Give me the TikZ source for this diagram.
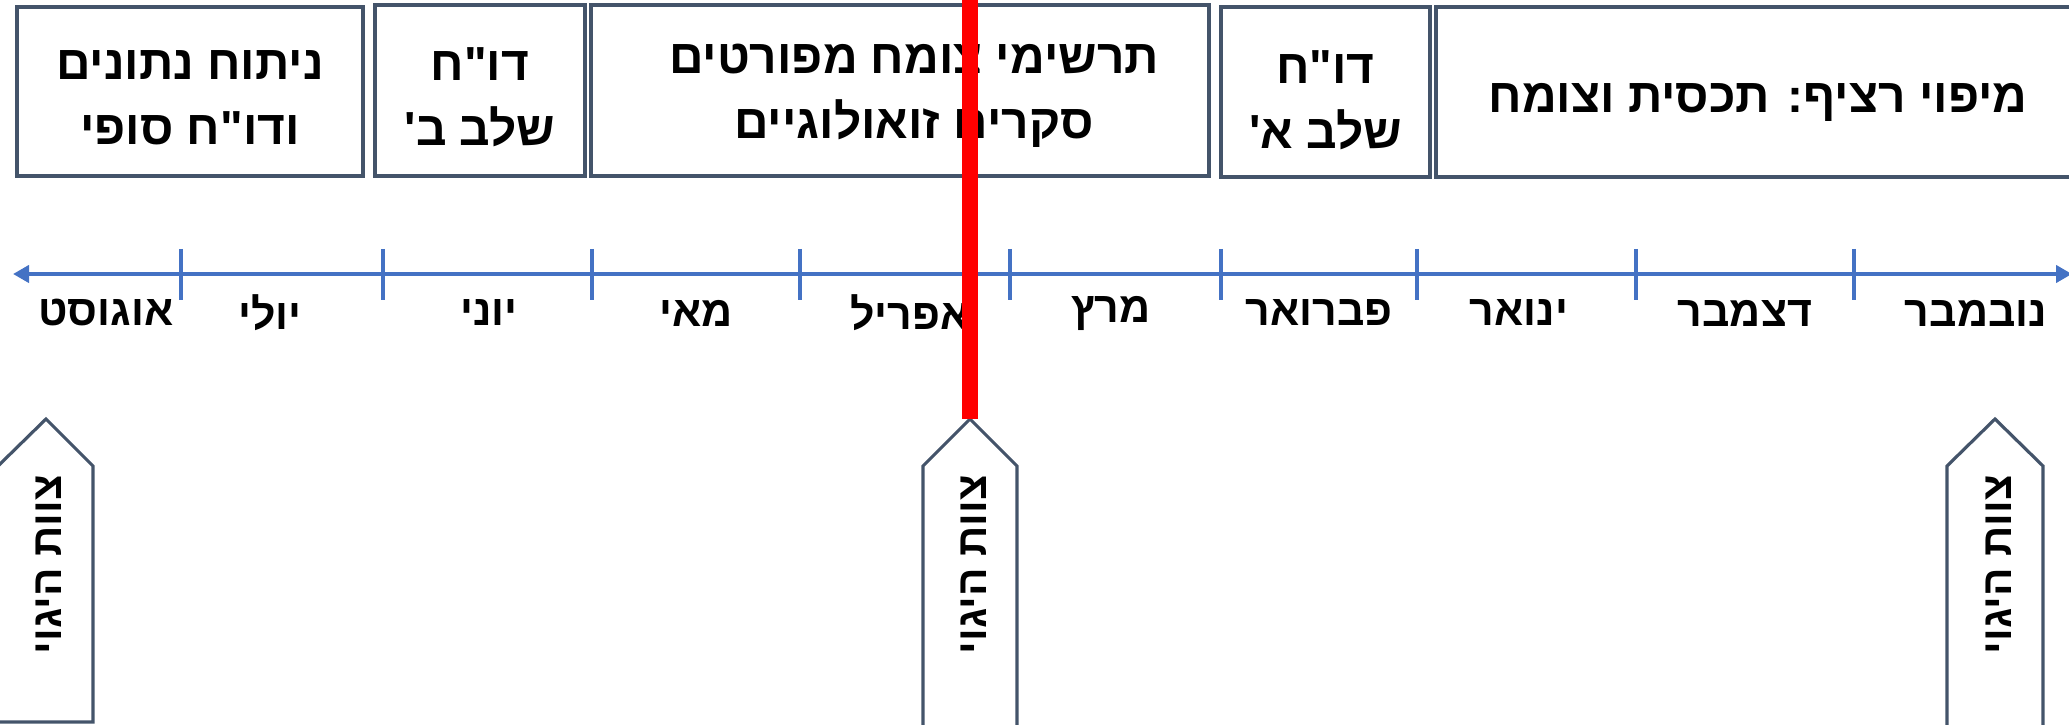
\documentclass[tikz,border=0pt]{standalone}
\usepackage{fontspec}
\newfontfamily\hebfont[Script=Hebrew,Ligatures=TeXOff]{Liberation Sans}
\TeXXeTstate=1
\usetikzlibrary{positioning,arrows.meta}
\definecolor{boxline}{HTML}{44546A}
\definecolor{axisblue}{HTML}{4472C4}
\tikzset{
  phasebox/.style={draw=boxline, line width=0.9pt, inner sep=0pt},
  phasetext/.style={align=center, inner sep=0pt,
    font=\hebfont\bfseries\fontsize{13.6}{18.5}\selectfont},
  monthlabel/.style={font=\hebfont\bfseries\fontsize{12.2}{14}\selectfont, inner sep=0pt},
  axisline/.style={axisblue, line width=1.4pt,
    {Triangle[length=1.6mm,width=1.7mm]}-{Triangle[length=1.6mm,width=1.7mm]}},
  axistick/.style={axisblue, line width=1.1pt},
  steerarrow/.style={draw=boxline, line width=0.9pt, fill=white},
  steerlabel/.style={font=\hebfont\bfseries\fontsize{12}{14}\selectfont,
    rotate=90, anchor=west, inner sep=0pt},
  nowline/.style={red, line width=4.5pt},
}

\begin{document}
\begin{tikzpicture}
  \useasboundingbox (0,0) rectangle (20.69,-7.25);
  % work phases
  \node[phasebox, minimum width=3.46cm, minimum height=1.69cm] (final) at (1.90,-0.915) {};
  \node[phasebox, minimum width=2.10cm, minimum height=1.71cm] (repB) at (4.80,-0.905) {};
  \node[phasebox, minimum width=6.18cm, minimum height=1.71cm] (survey) at (9.00,-0.905) {};
  \node[phasebox, minimum width=2.09cm, minimum height=1.70cm] (repA) at (13.255,-0.92) {};
  \node[phasebox, minimum width=6.44cm, minimum height=1.70cm] (mapping) at (17.58,-0.92) {};
  \node[phasetext] (finaltxt) at ([yshift=-0.6mm]final.center)
    {\beginR ניתוח נתונים\endR\\\beginR ודו"ח סופי\endR};
  \node[phasetext] (repBtxt) at ([yshift=-0.7mm]repB.center)
    {\beginR דו"ח\endR\\\beginR שלב ב'\endR};
  \node[phasetext] (surveytxt) at ([xshift=1.4mm,yshift=-0.5mm]survey.center)
    {\beginR תרשימי צומח מפורטים\endR\\\beginR סקרים זואולוגיים\endR};
  \node[phasetext] (repAtxt) at ([yshift=-0.8mm]repA.center)
    {\beginR דו"ח\endR\\\beginR שלב א'\endR};
  \node[phasetext] (mappingtxt) at ([yshift=-1mm]mapping.center)
    {\beginR מיפוי רציף: תכסית וצומח\endR};
  % time axis
  \coordinate (axisL) at (0.13,-2.74);
  \coordinate (axisR) at (20.72,-2.74);
  \draw[axisline] (axisL) -- (axisR);
  \foreach \tx in {1.81,3.83,5.92,8.00,10.10,12.21,14.17,16.36,18.54}
    \draw[axistick] (\tx,-2.49) -- (\tx,-3.00);
  \foreach \mx/\mname/\mid in {1.06/אוגוסט/aug, 2.70/יולי/jul, 4.89/יוני/jun,
      6.96/מאי/may, 9.10/אפריל/apr, 11.11/מרץ/mar, 13.19/פברואר/feb,
      15.19/ינואר/jan, 17.45/דצמבר/dec, 19.76/נובמבר/nov}
    \node[monthlabel] (m\mid) at (\mx,-3.13) {\beginR\mname\endR};
  % steering committee
  \draw[steerarrow] (-0.02,-7.22) -- (-0.02,-4.66) -- (0.46,-4.19) -- (0.93,-4.66) -- (0.93,-7.22) -- cycle;
  \draw[steerarrow] (9.23,-7.40) -- (9.23,-4.66) -- (9.70,-4.19) -- (10.17,-4.66) -- (10.17,-7.40);
  \draw[steerarrow] (19.47,-7.40) -- (19.47,-4.66) -- (19.95,-4.19) -- (20.43,-4.66) -- (20.43,-7.40);
  \coordinate (nowtip) at (9.70,-4.19);
  \coordinate (nowtop) at (9.70,0.10);
  \node[steerlabel] (steerA) at (0.49,-6.55) {\beginR צוות היגוי\endR};
  \node[steerlabel] (steerB) at (9.74,-6.55) {\beginR צוות היגוי\endR};
  \node[steerlabel] (steerC) at (19.99,-6.55) {\beginR צוות היגוי\endR};
  % now
  \draw[nowline] (nowtop) -- (nowtip);
\end{tikzpicture}
\end{document}
